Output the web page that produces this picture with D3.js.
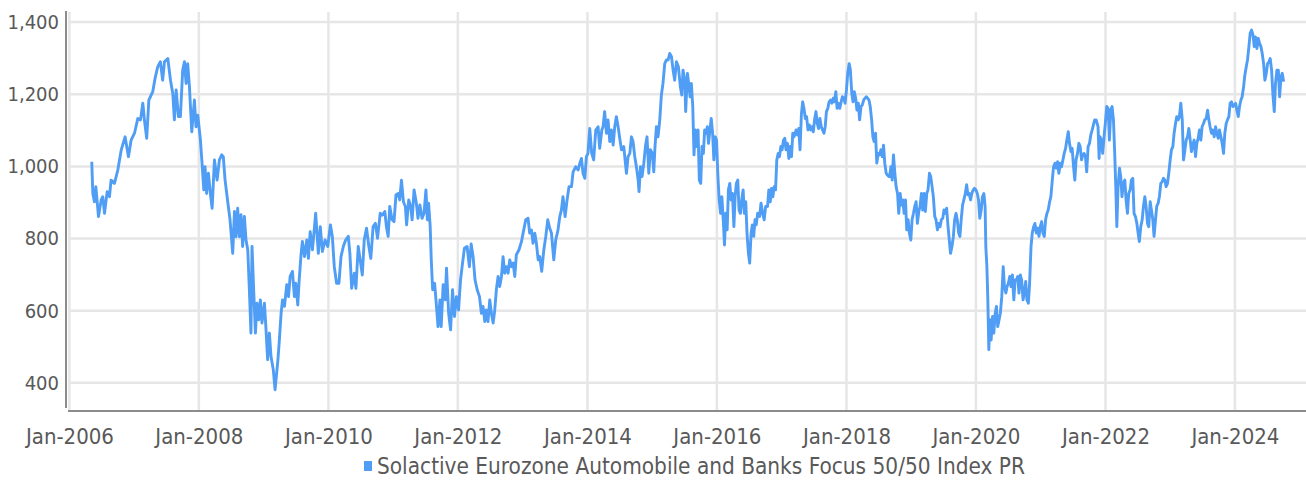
<!DOCTYPE html>
<html>
<head>
<meta charset="utf-8">
<script src="https://cdn.jsdelivr.net/npm/d3@7"></script>
<style>
  body { margin: 0; background: #fff; }
  .chart text { font-family: "Liberation Sans Narrow", "DejaVu Sans Condensed", sans-serif; fill: #595959; }
</style>
</head>
<body>
<div class="chart"></div>
<script>
const seriesName = "Solactive Eurozone Automobile and Banks Focus 50/50 Index PR";
const yTicks = [400, 600, 800, 1000, 1200, 1400];
const xTickYears = [2006, 2008, 2010, 2012, 2014, 2016, 2018, 2020, 2022, 2024];

// months elapsed since Jan-2006
const months = [
  4.17,4.35,4.66,4.91,5.40,5.90,6.20,6.51,7.01,7.44,7.75,8.36,8.98,9.60,10.34,10.96,11.45,12.07,12.69,13.18,
  13.61,13.92,14.35,14.72,15.46,15.90,16.39,16.88,17.31,17.62,18.24,18.73,19.17,19.48,19.78,20.22,20.59,21.02,21.33,21.64,
  21.94,22.25,22.69,23.18,23.49,23.80,24.29,24.60,24.91,25.15,25.46,25.77,26.14,26.45,26.88,27.38,27.81,28.24,28.55,28.86,
  29.35,29.78,30.28,30.59,30.90,31.20,31.51,31.82,32.13,32.44,32.75,33.06,33.36,33.67,33.86,34.17,34.48,34.78,35.09,35.40,
  35.71,36.15,36.45,36.76,37.07,37.38,37.81,38.12,
  38.65,38.89,39.26,39.51,39.88,40.31,40.62,40.92,41.35,41.72,41.97,42.34,42.58,42.95,43.20,43.57,44.00,44.31,44.62,45.05,
  45.66,46.15,46.52,46.89,47.38,47.88,48.37,48.74,49.11,49.54,49.97,50.34,50.77,51.20,51.69,52.00,52.31,52.80,53.11,53.54,
  53.91,54.28,54.65,55.08,55.51,55.88,56.31,56.74,57.11,57.60,57.97,58.46,58.77,59.08,59.38,59.82,60.18,60.55,60.92,61.23,
  61.54,61.91,62.28,62.52,62.89,63.26,63.51,63.88,64.31,64.62,64.98,65.35,65.72,66.09,66.34,66.58,66.89,67.08,67.32,67.69,
  68.00,68.31,68.68,68.92,69.29,69.66,69.91,70.28,70.65,71.02,71.38,71.75,72.12,72.49,72.80,73.23,73.72,74.15,74.46,74.83,
  75.20,75.57,76.00,
  76.37,76.68,76.99,77.30,77.60,77.91,78.22,78.53,78.84,79.15,79.46,79.77,80.07,80.38,80.69,81.00,81.31,81.62,81.93,82.24,
  82.55,82.85,83.35,83.78,84.09,84.58,85.02,85.32,85.63,85.94,86.25,86.56,86.87,87.18,87.55,87.92,88.29,88.66,89.03,89.34,
  89.77,90.14,90.57,90.88,91.19,91.50,91.87,92.24,92.61,93.05,93.35,93.85,94.28,94.59,94.90,95.21,95.52,95.83,96.13,96.44,
  96.81,97.18,97.55,97.99,98.30,98.67,98.91,99.22,99.53,99.84,100.15,100.46,100.77,101.08,101.38,101.69,102.00,102.31,102.74,103.05,
  103.24,103.55,103.86,104.16,104.47,104.78,105.09,105.40,105.58,105.83,106.14,106.45,106.76,107.07,107.38,107.68,108.05,108.30,108.55,108.80,
  109.10,109.41,109.72,110.03,110.34,110.65,110.96,111.27,111.58,111.88,112.19,112.50,112.87,113.24,113.49,113.74,
  114.05,114.23,114.54,114.79,115.03,115.28,115.52,115.77,116.01,116.26,116.51,116.75,117.00,117.24,117.49,117.73,118.04,118.22,118.47,118.72,
  118.96,119.21,119.45,119.70,119.94,120.19,120.43,120.68,120.93,121.17,121.42,121.66,121.91,122.15,122.40,122.64,122.89,123.14,123.38,123.63,
  123.87,124.12,124.36,124.61,124.85,125.10,125.35,125.59,125.84,126.08,126.33,126.57,126.82,127.06,127.31,127.56,127.92,128.17,128.48,128.78,
  129.03,129.40,129.64,129.89,130.13,130.38,130.62,130.87,131.12,131.36,131.61,131.85,132.10,132.34,132.59,132.83,133.08,133.33,133.57,133.82,
  134.06,134.31,134.68,134.92,135.17,135.41,135.66,135.90,136.15,136.39,136.64,136.89,137.13,137.38,137.62,137.87,138.11,138.36,138.60,138.85,
  139.10,139.34,139.59,139.83,140.08,140.32,140.57,140.81,141.06,141.31,141.55,141.80,142.04,142.29,142.53,142.78,143.02,143.27,143.51,143.76,
  144.01,144.25,144.50,144.74,144.99,145.23,145.48,145.72,145.97,146.22,146.46,146.71,146.95,147.20,147.44,147.69,147.93,148.18,148.43,148.67,
  148.92,149.16,149.41,149.65,149.90,150.14,150.39,150.64,150.88,151.13,151.37,151.62,151.86,
  152.00,152.25,152.49,152.74,152.98,153.23,153.48,153.72,153.97,154.22,154.46,154.71,154.95,155.20,155.45,155.69,155.94,156.18,156.43,156.68,
  156.92,157.17,157.42,157.66,157.91,158.15,158.40,158.65,158.89,159.14,159.38,159.63,159.88,160.12,160.37,160.62,160.86,161.11,161.35,161.60,
  161.85,162.09,162.34,162.58,162.83,163.08,163.32,163.57,163.82,164.06,164.31,164.55,164.80,165.05,165.29,165.54,165.78,166.03,166.28,166.52,
  166.77,167.02,167.26,167.51,167.75,168.00,168.25,168.49,168.74,168.98,169.23,169.48,169.72,169.85,170.03,170.22,170.40,170.58,170.83,171.08,
  171.32,171.57,171.82,172.06,172.31,172.55,172.80,173.05,173.29,173.54,173.78,174.03,174.28,174.52,174.77,175.02,175.26,175.51,175.75,176.00,
  176.25,176.49,176.74,176.98,177.23,177.48,177.72,177.97,178.22,178.46,178.71,178.95,179.20,179.45,179.69,179.94,180.18,180.43,180.68,180.92,
  181.17,181.42,181.66,181.91,182.15,182.40,182.65,182.89,183.14,183.38,183.63,183.88,184.12,184.37,184.62,184.86,185.11,185.35,185.60,185.85,
  186.09,186.34,186.58,186.83,187.08,187.32,187.57,187.82,188.06,188.31,188.55,188.80,189.05,189.29,189.54,189.78,190.03,190.28,
  190.64,190.83,191.01,191.26,191.51,191.76,192.00,192.25,192.50,192.74,192.99,193.24,193.49,193.73,193.92,194.11,194.35,194.60,194.85,195.09,
  195.34,195.59,195.84,196.08,196.33,196.58,196.83,197.07,197.32,197.57,197.82,198.06,198.31,198.56,198.81,199.05,199.30,199.55,199.79,200.04,
  200.29,200.54,200.78,201.03,201.28,201.53,201.77,202.02,202.27,202.52,202.76,203.01,203.26,203.51,203.75,204.00,204.25,204.49,204.74,204.99,
  205.24,205.48,205.73,205.98,206.23,206.47,206.72,206.97,207.22,207.46,207.71,207.96,208.20,208.45,208.70,208.95,209.19,209.44,209.69,209.94,
  210.18,210.43,210.68,210.93,211.17,211.42,211.67,211.92,212.16,212.41,212.66,212.91,213.15,213.40,213.65,213.89,214.14,214.39,214.64,214.88,
  215.13,215.38,215.63,215.87,216.12,216.37,216.62,216.86,217.11,217.36,217.61,217.85,218.10,218.35,218.59,218.84,219.09,219.34,219.58,219.83,
  220.08,220.33,220.57,220.82,221.07,221.32,221.56,221.81,222.06,222.31,222.55,222.80,223.05,223.30,223.54,223.79,224.04,224.29,224.53,224.78,
  225.03
];

const levels = [
  1013,925,902,944,861,907,916,870,930,916,962,953,990,1045,1082,1027,1073,1092,1133,1129,
  1175,1129,1078,1184,1207,1244,1276,1290,1239,1290,1299,1239,1202,1129,1212,1138,1138,1267,1290,1230,
  1285,1221,1096,1184,1110,1142,1073,1009,935,999,925,981,925,884,1018,962,1018,1032,1027,962,
  902,852,759,875,805,884,805,866,778,861,796,769,658,538,778,649,538,621,575,630,
  566,621,547,464,538,473,436,381,
  464,510,593,630,612,672,639,695,709,639,676,616,685,759,792,750,796,745,819,769,
  870,759,833,764,796,778,838,806,722,676,676,750,778,796,806,759,662,704,662,778,
  741,699,796,829,778,745,833,842,801,870,865,875,833,806,889,852,847,921,925,907,
  962,902,889,838,907,889,852,935,898,856,893,856,870,935,852,898,833,741,658,676,
  621,556,630,556,672,630,718,593,547,658,584,639,602,685,722,773,778,722,785,750,
  685,658,639,
  593,612,570,602,570,630,593,566,602,662,695,667,695,750,704,722,704,741,722,732,
  695,755,769,792,815,852,856,815,824,787,815,787,741,750,709,769,806,852,829,815,
  741,796,824,861,879,916,861,907,944,944,985,999,990,1009,1022,981,967,1027,1036,1105,
  1036,1018,1101,1110,1050,1101,1110,1152,1092,1129,1069,1101,1059,1110,1138,1110,1078,1046,1055,1009,
  981,1027,1036,1082,1069,1027,999,962,930,999,972,1009,1055,1082,981,1046,1036,985,1055,1110,
  1082,1129,1198,1230,1285,1295,1295,1313,1304,1267,1239,1290,1276,1221,1198,1267,
  1239,1152,1258,1230,1193,1230,1166,1032,1101,1055,1101,962,953,1055,1036,1101,1092,1110,1064,1101,
  1133,1092,1018,1082,1073,972,907,870,916,852,782,870,824,935,953,907,925,833,916,953,
  962,879,870,907,935,870,902,815,759,732,815,838,806,852,838,870,861,898,870,852,
  889,889,935,902,939,916,944,935,1018,1036,1027,1055,1046,1073,1078,1046,1064,1022,1055,1027,
  1092,1082,1101,1087,1105,1046,1147,1179,1161,1133,1138,1101,1115,1101,1110,1096,1129,1152,1119,1105,
  1133,1110,1101,1092,1110,1152,1161,1179,1184,1175,1189,1179,1207,1161,1175,1161,1179,1193,1189,1175,
  1212,1258,1285,1267,1202,1179,1207,1189,1156,1175,1129,1166,1170,1184,1189,1193,1189,1184,1166,1129,
  1082,1069,1092,1009,1036,1032,1046,1027,1059,1009,981,976,972,
  972,999,962,1032,981,944,925,870,925,893,907,870,907,824,852,815,796,852,870,889,
  902,842,875,889,925,879,925,875,925,935,981,972,944,916,861,852,824,842,833,852,
  856,879,870,884,833,796,759,778,806,852,870,852,815,806,852,893,907,925,949,921,
  925,907,925,935,939,935,925,907,856,879,916,925,889,778,722,639,492,575,519,584,
  538,593,612,556,575,593,639,722,667,649,667,676,695,667,699,630,685,685,695,649,
  699,685,630,649,681,630,621,676,778,815,833,842,815,829,806,833,847,815,806,852,
  870,879,902,916,962,999,1009,995,1013,981,1009,999,1018,1036,1050,1073,1096,1064,1041,1050,
  999,962,1018,1036,1064,1055,1018,1032,1036,1027,985,1055,1064,1087,1101,1115,1129,1129,
  1110,1022,1082,1073,1036,1082,1119,1166,1161,1073,1156,1166,1129,1036,944,833,944,995,972,916,
  953,962,907,870,925,935,962,967,870,861,842,815,792,833,852,889,916,889,842,833,
  902,879,852,806,852,889,898,916,953,958,967,962,944,953,981,1018,1046,1055,1092,1119,
  1138,1129,1138,1175,1129,1018,1041,1073,1082,1105,1073,1041,1059,1073,1027,1064,1078,1101,1073,1110,
  1119,1129,1133,1156,1129,1110,1092,1101,1082,1110,1092,1078,1101,1082,1064,1036,1092,1119,1129,1138,
  1175,1179,1166,1170,1175,1156,1138,1166,1184,1193,1221,1253,1276,1295,1332,1369,1378,1364,1332,1359,
  1327,1355,1341,1332,1313,1285,1239,1258,1285,1290,1299,1267,1202,1152,1230,1267,1267,1193,1248,1258,
  1235
];

const width = 1306, height = 493;
const plot = { left: 68, right: 1306, top: 12, bottom: 411 };

const toDate = m => new Date(2006, 0, 1 + m * 30.437);
const data = months.map((m, i) => ({ date: toDate(m), value: levels[i] }));

const svg = d3.select(".chart").append("svg")
  .attr("width", width)
  .attr("height", height);

const x = d3.scaleTime()
  .domain([new Date(2005, 11, 24), new Date(2025, 1, 5)])
  .range([plot.left, plot.right]);

const y = d3.scaleLinear()
  .domain([322, 1428])
  .range([plot.bottom, plot.top]);

// grid
svg.append("g")
  .selectAll("line.h")
  .data(yTicks)
  .join("line")
  .attr("x1", plot.left)
  .attr("x2", plot.right)
  .attr("y1", d => y(d))
  .attr("y2", d => y(d))
  .attr("stroke", "#e6e6e6")
  .attr("stroke-width", 2.5);

svg.append("g")
  .selectAll("line.v")
  .data(xTickYears)
  .join("line")
  .attr("x1", d => x(new Date(d, 0, 1)))
  .attr("x2", d => x(new Date(d, 0, 1)))
  .attr("y1", plot.top)
  .attr("y2", plot.bottom)
  .attr("stroke", "#e6e6e6")
  .attr("stroke-width", 2.5);

// axes
const yAxis = svg.append("g")
  .attr("transform", `translate(${plot.left - 2},0)`)
  .call(d3.axisLeft(y).tickValues(yTicks).tickFormat(d3.format(",")).tickSize(0).tickPadding(7));
yAxis.select(".domain").attr("stroke", "#8c8c8c").attr("stroke-width", 2)
  .attr("d", `M0,${plot.top - 1}V${plot.bottom - 3}`);
yAxis.selectAll("text").attr("font-size", 20).style("fill", "#595959");

const xAxis = svg.append("g")
  .attr("transform", `translate(0,${plot.bottom})`)
  .call(d3.axisBottom(x)
    .tickValues(xTickYears.map(yr => new Date(yr, 0, 1)))
    .tickFormat(d3.timeFormat("Jan-%Y"))
    .tickSize(0).tickPadding(17));
xAxis.select(".domain").attr("stroke", "#8c8c8c").attr("stroke-width", 2)
  .attr("d", `M${plot.left},0H${plot.right}`);
xAxis.selectAll("text").attr("font-size", 22).style("fill", "#595959");

// series
const line = d3.line()
  .x(d => x(d.date))
  .y(d => y(d.value));

svg.append("path")
  .datum(data)
  .attr("d", line)
  .attr("fill", "none")
  .attr("stroke", "#4f9df5")
  .attr("stroke-width", 2.9)
  .attr("stroke-linejoin", "round");

// legend
const legend = svg.append("g").attr("transform", "translate(364,466)");
legend.append("rect")
  .attr("x", 0).attr("y", -5)
  .attr("width", 8).attr("height", 10)
  .attr("fill", "#4f9df5");
legend.append("text")
  .attr("x", 13)
  .attr("dy", "0.35em")
  .attr("font-size", 22.4)
  .text(seriesName);
</script>
</body>
</html>
